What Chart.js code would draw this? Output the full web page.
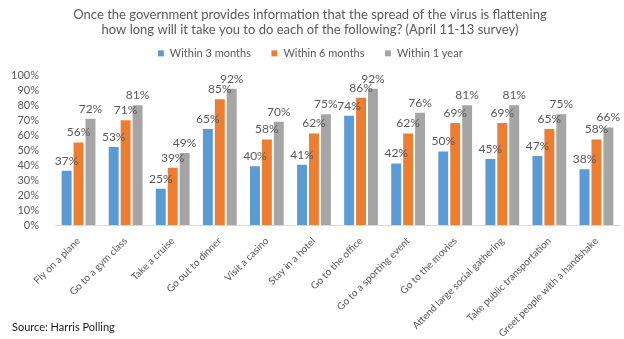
<!DOCTYPE html>
<html>
<head>
<meta charset="utf-8">
<script src="https://cdn.jsdelivr.net/npm/chart.js@4"></script>
<style>
  html, body { margin: 0; padding: 0; background: #fff; }
  #wrap { position: relative; width: 624px; height: 339px; }
  #source { position: absolute; left: 12px; top: 320px; font: 11px Lato, sans-serif; color: #1a1a1a; }
</style>
</head>
<body>
<div id="wrap">
  <canvas id="pollChart" width="624" height="339"></canvas>
  <div id="source">Source: Harris Polling</div>
</div>
<script>
// chart data
const activities = [
  'Fly on a plane', 'Go to a gym class', 'Take a cruise', 'Go out to dinner',
  'Visit a casino', 'Stay in a hotel', 'Go to the office', 'Go to a sporting event',
  'Go to the movies', 'Attend large social gathering', 'Take public transportation',
  'Greet people with a handshake'
];
const within3Months = [37, 53, 25, 65, 40, 41, 74, 42, 50, 45, 47, 38];
const within6Months = [56, 71, 39, 85, 58, 62, 86, 62, 69, 69, 65, 58];
const within1Year = [72, 81, 49, 92, 70, 75, 92, 76, 81, 81, 75, 66];
const yTicks = [0, 10, 20, 30, 40, 50, 60, 70, 80, 90, 100];

const textGray = '#595959';

// draws the value above each bar
const barValueLabels = {
  id: 'barValueLabels',
  afterDatasetsDraw(chart) {
    const ctx = chart.ctx;
    ctx.save();
    ctx.font = '12px Lato, sans-serif';
    ctx.fillStyle = textGray;
    ctx.textAlign = 'center';
    ctx.textBaseline = 'bottom';
    chart.data.datasets.forEach((ds, i) => {
      chart.getDatasetMeta(i).data.forEach((bar, j) => {
        ctx.fillText(ds.data[j] + '%', bar.x, bar.y - 3);
      });
    });
    ctx.restore();
  }
};

// extra room under the legend
const legendGap = {
  id: 'legendGap',
  beforeInit(chart) {
    const origFit = chart.legend.fit;
    chart.legend.fit = function () {
      origFit.bind(chart.legend)();
      this.height += 7;
    };
  }
};

new Chart(document.getElementById('pollChart'), {
  type: 'bar',
  data: {
    labels: activities,
    datasets: [
      { label: 'Within 3 months', data: within3Months, backgroundColor: '#5B9BD5' },
      { label: 'Within 6 months', data: within6Months, backgroundColor: '#ED7D31' },
      { label: 'Within 1 year', data: within1Year, backgroundColor: '#A5A5A5' }
    ]
  },
  options: {
    responsive: false,
    animation: false,
    layout: { padding: { left: 0, right: 4, top: 0, bottom: 0 } },
    datasets: {
      bar: {
        categoryPercentage: 0.76,
        barPercentage: 1,
        borderWidth: 1,
        borderColor: '#ffffff',
        borderSkipped: 'bottom'
      }
    },
    plugins: {
      title: {
        display: true,
        text: [
          'Once the government provides information that the spread of the virus is flattening',
          'how long will it take you to do each of the following? (April 11-13 survey)'
        ],
        color: textGray,
        font: { family: 'Lato, sans-serif', size: 13, weight: 'normal', lineHeight: 1.15 },
        padding: { top: 7, bottom: -9 }
      },
      legend: {
        labels: {
          boxWidth: 7,
          boxHeight: 7,
          color: textGray,
          font: { family: 'Lato, sans-serif', size: 11 },
          padding: 20
        }
      },
      tooltip: { enabled: false }
    },
    scales: {
      x: {
        grid: { display: false },
        border: { color: '#D9D9D9' },
        ticks: {
          color: textGray,
          font: { family: 'Lato, sans-serif', size: 10 },
          padding: 2,
          maxRotation: 45,
          minRotation: 45,
          autoSkip: false
        },
        afterFit(scale) { scale.height = 114; }
      },
      y: {
        min: 0,
        max: 100,
        grid: { display: false },
        border: { display: false },
        afterBuildTicks(scale) { scale.ticks = yTicks.map(v => ({ value: v })); },
        ticks: {
          color: textGray,
          font: { family: 'Lato, sans-serif', size: 11 },
          padding: 8,
          autoSkip: false,
          callback: v => v + '%'
        },
        afterFit(scale) { scale.width = 55; }
      }
    }
  },
  plugins: [barValueLabels, legendGap]
});
</script>
</body>
</html>
